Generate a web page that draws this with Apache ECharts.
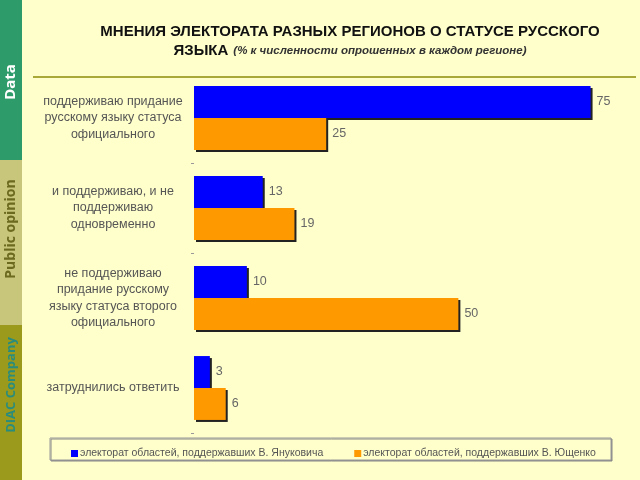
<!DOCTYPE html>
<html>
<head>
<meta charset="utf-8">
<script src="https://cdn.jsdelivr.net/npm/echarts@6/dist/echarts.min.js"></script>
<style>
  html, body { margin: 0; padding: 0; background: #ffffcc; }
  #main { width: 640px; height: 480px; }
</style>
</head>
<body>
<div id="main"></div>
<script>
// данные с картинки
var categories = [
  "поддерживаю придание\nрусскому языку статуса\nофициального",
  "и поддерживаю, и не\nподдерживаю\nодновременно",
  "не поддерживаю\nпридание русскому\nязыку статуса второго\nофициального",
  "затруднились ответить"
];
var seriesNames = [
  "электорат областей, поддержавших В. Януковича",
  "электорат областей, поддержавших В. Ющенко"
];
var yanukovych = [75, 13, 10, 3];
var yushchenko = [25, 19, 50, 6];

var mycharts = echarts.init(document.getElementById("main"));

var labelStyle = {
  show: true,
  position: "right",
  distance: 6,
  fontFamily: "Liberation Sans",
  fontSize: 12.5,
  color: "#666"
};

var option = {
  backgroundColor: "#ffffcc",
  animation: false,
  title: {
    left: 345,
    top: 17,
    textAlign: "center",
    text: "{a|МНЕНИЯ ЭЛЕКТОРАТА РАЗНЫХ РЕГИОНОВ О СТАТУСЕ РУССКОГО}\n{a|ЯЗЫКА} {b|(% к численности опрошенных в каждом регионе)}",
    textStyle: {
      rich: {
        a: {
          fontFamily: "Liberation Sans",
          fontWeight: "bold",
          fontSize: 15,
          color: "#111",
          lineHeight: 19
        },
        b: {
          fontFamily: "Liberation Sans",
          fontStyle: "italic",
          fontSize: 11.5,
          color: "#333",
          lineHeight: 19
        }
      }
    }
  },
  legend: {
    left: 66,
    top: 443,
    itemWidth: 7,
    itemHeight: 7,
    itemGap: 31,
    icon: "rect",
    textStyle: {
      fontFamily: "Liberation Sans",
      fontSize: 10.5,
      color: "#555",
      padding: [0, 0, 0, -3]
    },
    data: seriesNames
  },
  grid: {
    left: 194,
    top: 73,
    width: 423,
    height: 360,
    containLabel: false
  },
  xAxis: {
    type: "value",
    min: 0,
    max: 80,
    show: false
  },
  yAxis: {
    type: "category",
    inverse: true,
    data: categories,
    axisLine: { show: false },
    axisTick: {
      show: true,
      length: 3,
      interval: function (idx) { return idx === 1 || idx === 2; },
      lineStyle: { color: "#999" }
    },
    axisLabel: {
      margin: 81,
      align: "center",
      fontFamily: "Liberation Sans",
      fontSize: 12.5,
      lineHeight: 16.5,
      color: "#555"
    }
  },
  series: [
    {
      name: seriesNames[0],
      type: "bar",
      data: yanukovych,
      barCategoryGap: "29%",
      barGap: "0%",
      itemStyle: {
        color: "#0000ff",
        shadowColor: "#222",
        shadowOffsetX: 2,
        shadowOffsetY: 2
      },
      label: labelStyle
    },
    {
      name: seriesNames[1],
      type: "bar",
      data: yushchenko,
      barCategoryGap: "29%",
      barGap: "0%",
      itemStyle: {
        color: "#ff9900",
        shadowColor: "#222",
        shadowOffsetX: 2,
        shadowOffsetY: 2
      },
      label: labelStyle
    }
  ],
  graphic: [
    // боковая полоса
    { type: "rect", shape: { x: 0, y: 0, width: 22, height: 160 }, style: { fill: "#2e9b6b" }, z: -1 },
    { type: "rect", shape: { x: 0, y: 160, width: 22, height: 165 }, style: { fill: "#c8c67a" }, z: -1 },
    { type: "rect", shape: { x: 0, y: 325, width: 22, height: 155 }, style: { fill: "#9c9a1c" }, z: -1 },
    {
      type: "text", x: 11, y: 82, rotation: Math.PI / 2,
      style: { text: "Data", fill: "#ffffff", font: "bold 15px 'Open Sans'", align: "center", verticalAlign: "middle" }
    },
    {
      type: "text", x: 11, y: 229, rotation: Math.PI / 2,
      style: { text: "Public opinion", fill: "#6b6a1e", font: "bold 14px 'Open Sans'", align: "center", verticalAlign: "middle" }
    },
    {
      type: "text", x: 11, y: 385, rotation: Math.PI / 2,
      style: { text: "DIAC Company", fill: "#2a8c7c", font: "bold 13px 'Open Sans'", align: "center", verticalAlign: "middle" }
    },
    // линия под заголовком
    { type: "line", shape: { x1: 33, y1: 77, x2: 636, y2: 77 }, style: { stroke: "#a9a93a", lineWidth: 2 } },
    // рамка легенды
    {
      type: "rect", shape: { x: 50, y: 438, width: 561, height: 22 },
      style: { fill: "#ffffcc", stroke: "#999", lineWidth: 1, shadowColor: "#888", shadowOffsetX: 1, shadowOffsetY: 1 },
      z: -1
    }
  ]
};
mycharts.setOption(option);
</script>
</body>
</html>
